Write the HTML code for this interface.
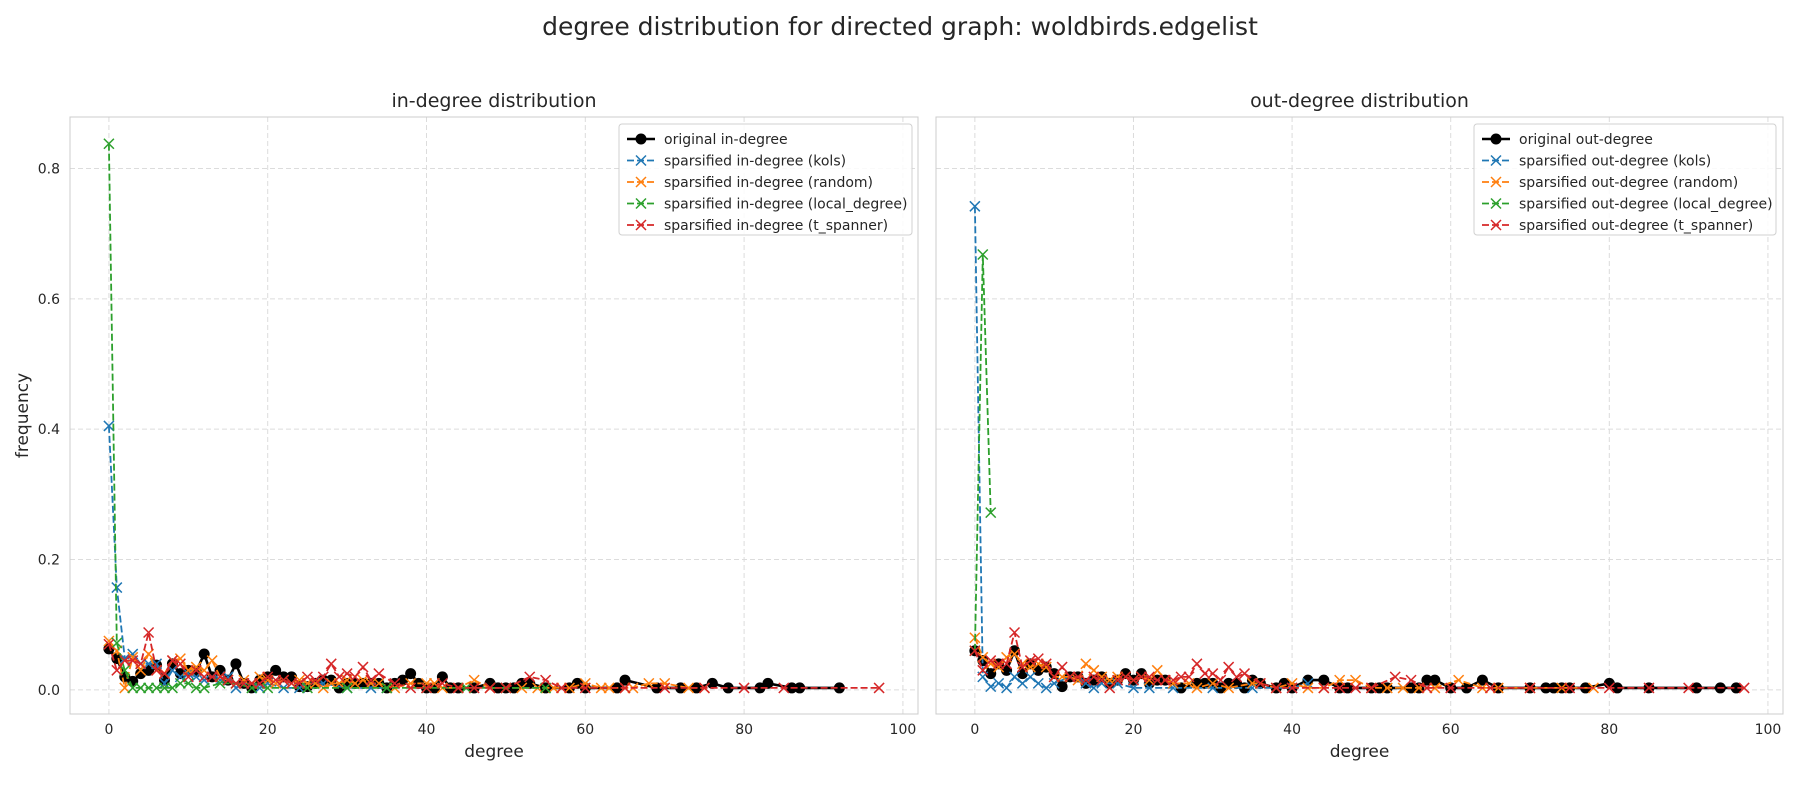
<!DOCTYPE html>
<html><head><meta charset="utf-8"><style>
body{margin:0;background:#fff;}
svg{display:block;font-family:"DejaVu Sans","Liberation Sans",sans-serif;}
</style></head><body>
<svg id="fig" width="1800" height="800" xmlns="http://www.w3.org/2000/svg">
<rect width="1800" height="800" fill="#fff"/>
<text x="900" y="35" text-anchor="middle" font-size="25" fill="#262626">degree distribution for directed graph: woldbirds.edgelist</text>
</svg>
<script>
const inOriginal=[[0,.063],[1,.048],[2,.02],[3,.013],[4,.025],[5,.03],[6,.038],[7,.015],[8,.04],[9,.025],[10,.03],[11,.028],[12,.055],[13,.02],[14,.03],[15,.015],[16,.04],[17,.01],[18,.003],[19,.015],[20,.02],[21,.03],[22,.02],[23,.02],[24,.005],[25,.005],[26,.01],[27,.015],[28,.015],[29,.003],[30,.01],[31,.01],[32,.01],[33,.01],[34,.01],[35,.003],[36,.01],[37,.015],[38,.025],[39,.01],[40,.003],[41,.003],[42,.02],[43,.003],[44,.003],[46,.003],[48,.01],[49,.003],[50,.003],[51,.003],[52,.01],[53,.01],[55,.003],[58,.003],[59,.01],[60,.003],[64,.003],[65,.015],[69,.003],[72,.003],[74,.003],[76,.01],[78,.003],[82,.003],[83,.01],[86,.003],[87,.003],[92,.003]];
const inKols=[[0,.405],[1,.157],[2,.048],[3,.055],[4,.04],[5,.04],[6,.04],[7,.01],[8,.03],[9,.02],[10,.025],[11,.02],[12,.015],[13,.02],[14,.015],[15,.02],[16,.003],[17,.01],[18,.01],[19,.003],[20,.01],[22,.003],[24,.003],[25,.01],[27,.01],[30,.003],[33,.003],[35,.003]];
const inRandom=[[0,.075],[1,.06],[2,.003],[3,.05],[4,.03],[5,.055],[6,.03],[7,.025],[8,.045],[9,.048],[10,.03],[11,.035],[12,.03],[13,.045],[14,.02],[15,.015],[16,.01],[17,.015],[18,.01],[19,.02],[20,.015],[21,.01],[22,.015],[23,.01],[24,.015],[25,.01],[26,.01],[27,.003],[28,.01],[29,.01],[30,.015],[31,.01],[32,.015],[33,.01],[34,.01],[36,.003],[38,.01],[40,.01],[41,.01],[42,.003],[44,.003],[46,.015],[48,.003],[50,.003],[52,.003],[54,.003],[56,.003],[58,.003],[60,.01],[62,.003],[63,.003],[65,.003],[66,.003],[68,.01],[70,.01],[73,.003],[75,.003]];
const inLocal=[[0,.838],[1,.072],[2,.03],[3,.003],[4,.003],[5,.003],[6,.003],[7,.003],[8,.003],[9,.01],[10,.01],[11,.003],[12,.003],[14,.01],[16,.01],[18,.003],[20,.003],[25,.003],[30,.003],[35,.003],[40,.003],[45,.003],[50,.003],[55,.003]];
const inSpanner=[[0,.07],[1,.03],[2,.045],[3,.045],[4,.04],[5,.088],[6,.03],[7,.025],[8,.045],[9,.04],[10,.02],[11,.03],[12,.02],[13,.02],[14,.02],[15,.015],[16,.01],[17,.01],[18,.01],[19,.01],[20,.02],[21,.015],[22,.015],[23,.01],[24,.01],[25,.02],[26,.015],[27,.02],[28,.04],[29,.02],[30,.025],[31,.02],[32,.035],[33,.015],[34,.025],[36,.01],[38,.003],[40,.003],[42,.01],[44,.003],[46,.003],[48,.003],[50,.003],[53,.02],[55,.015],[57,.003],[60,.003],[65,.003],[70,.003],[75,.003],[80,.003],[85,.003],[97,.003]];
const outOriginal=[[0,.06],[1,.045],[2,.025],[3,.04],[4,.03],[5,.06],[6,.025],[7,.04],[8,.03],[9,.035],[10,.025],[11,.005],[12,.02],[13,.02],[14,.01],[15,.015],[16,.02],[17,.01],[18,.015],[19,.025],[20,.015],[21,.025],[22,.01],[23,.015],[24,.015],[26,.003],[28,.01],[29,.01],[30,.01],[31,.003],[32,.01],[33,.01],[34,.003],[35,.015],[36,.01],[38,.003],[39,.01],[40,.003],[42,.015],[44,.015],[46,.003],[47,.003],[50,.003],[51,.003],[52,.003],[55,.003],[56,.003],[57,.015],[58,.015],[60,.003],[62,.003],[64,.015],[66,.003],[70,.003],[72,.003],[73,.003],[74,.003],[75,.003],[77,.003],[80,.01],[81,.003],[85,.003],[91,.003],[94,.003],[96,.003]];
const outKols=[[0,.742],[1,.02],[2,.005],[3,.01],[4,.003],[5,.02],[6,.01],[7,.02],[8,.01],[9,.003],[10,.01],[12,.02],[14,.01],[15,.003],[16,.01],[18,.01],[20,.003],[22,.003],[25,.003],[30,.003],[35,.003],[40,.003],[42,.01]];
const outRandom=[[0,.08],[1,.05],[2,.04],[3,.035],[4,.05],[5,.055],[6,.04],[7,.035],[8,.04],[9,.035],[10,.02],[11,.02],[12,.02],[13,.015],[14,.04],[15,.03],[16,.02],[17,.015],[18,.02],[19,.02],[20,.015],[21,.02],[22,.015],[23,.03],[24,.015],[25,.01],[27,.01],[28,.003],[30,.01],[32,.003],[35,.01],[36,.01],[38,.003],[40,.01],[42,.003],[44,.003],[46,.015],[48,.015],[50,.003],[52,.003],[54,.003],[56,.003],[58,.003],[61,.015],[64,.003],[66,.003],[70,.003],[74,.003],[78,.003]];
const outLocal=[[0,.06],[1,.668],[2,.272]];
const outSpanner=[[0,.06],[1,.03],[2,.045],[3,.04],[4,.04],[5,.088],[6,.035],[7,.045],[8,.048],[9,.04],[10,.02],[11,.035],[12,.02],[13,.02],[14,.015],[15,.02],[16,.015],[17,.003],[18,.015],[19,.02],[20,.015],[21,.02],[22,.02],[23,.015],[24,.015],[25,.015],[26,.02],[27,.02],[28,.04],[29,.025],[30,.025],[31,.015],[32,.035],[33,.02],[34,.025],[36,.01],[38,.003],[40,.003],[44,.003],[46,.003],[48,.003],[50,.003],[53,.02],[55,.015],[57,.003],[60,.003],[65,.003],[70,.003],[75,.003],[80,.003],[85,.003],[90,.003],[97,.003]];
const xTicks=[0,20,40,60,80,100];
const yTicks=[0,0.2,0.4,0.6,0.8];
const yTickLabels=["0.0","0.2","0.4","0.6","0.8"];
const methods=["kols","random","local_degree","t_spanner"];
const colors=["#1f77b4","#ff7f0e","#2ca02c","#d62728"];

const NS="http://www.w3.org/2000/svg";
const svg=document.getElementById('fig');
function mk(tag,attrs,parent){const e=document.createElementNS(NS,tag);for(const k in attrs)e.setAttribute(k,attrs[k]);(parent||svg).appendChild(e);return e;}

function panel(key,L,R,T,B,title,kind,series,showY,legX,legW){
  const xmin=-4.9,xmax=101.9,ymin=-0.037,ymax=0.879;
  const sx=v=>L+(v-xmin)/(xmax-xmin)*(R-L);
  const sy=v=>B-(v-ymin)/(ymax-ymin)*(B-T);
  const g=mk('g',{});
  
  
  xTicks.forEach(t=>{
    const l=mk('line',{x1:sx(t),x2:sx(t),y1:T,y2:B,stroke:'#dcdcdc','stroke-dasharray':'5,3','stroke-width':1},g);
    
    const tx=mk('text',{x:sx(t),y:B+20,'text-anchor':'middle','font-size':14,fill:'#262626'},g);
    tx.textContent=t;
  });
  yTicks.forEach((t,i)=>{
    const l=mk('line',{x1:L,x2:R,y1:sy(t),y2:sy(t),stroke:'#dcdcdc','stroke-dasharray':'5,3','stroke-width':1},g);
    
    if(showY){const tx=mk('text',{x:L-10,y:sy(t)+5,'text-anchor':'end','font-size':14,fill:'#262626'},g);
    tx.textContent=yTickLabels[i];}
  });
  const fr=mk('rect',{x:L,y:T,width:R-L,height:B-T,fill:'none',stroke:'#cccccc','stroke-width':1},g);
  
  const tt=mk('text',{x:(L+R)/2,y:T-10,'text-anchor':'middle','font-size':19,fill:'#262626'},g);
  tt.textContent=title;
  const xl=mk('text',{x:(L+R)/2,y:B+43,'text-anchor':'middle','font-size':17,fill:'#262626'},g);
  xl.textContent='degree';
  if(showY){const yl=mk('text',{x:0,y:0,'text-anchor':'middle','font-size':17,fill:'#262626',transform:`translate(28,${(T+B)/2}) rotate(-90)`},g);
    yl.textContent='frequency';}
  [0,1,2,3,4].forEach(si=>{
    const data=series[si];
    const col=si===0?'#000':colors[si-1];
    const sg=mk('g',{},g);
    
    
    const pts=data.map(d=>sx(d[0]).toFixed(1)+','+sy(d[1]).toFixed(1)).join(' ');
    const pl=mk('polyline',{points:pts,fill:'none',stroke:col,'stroke-width':si===0?2.6:1.8,'stroke-dasharray':si===0?'none':'7,3'},sg);
    
    data.forEach(d=>{
      const x=sx(d[0]),y=sy(d[1]);
      if(si===0){const c=mk('circle',{cx:x,cy:y,r:5.5,fill:'#000'},sg);}
      else{const p=mk('path',{d:`M${x-5},${y-5}L${x+5},${y+5}M${x-5},${y+5}L${x+5},${y-5}`,stroke:col,'stroke-width':1.5},sg);}
    });
  });
  const lg=mk('g',{},g);
  
  const lt=T+7;
  mk('rect',{x:legX,y:lt,width:legW,height:111,rx:3,fill:'#fff','fill-opacity':0.85,stroke:'#d0d0d0'},lg);
  const labels=['original '+kind,...methods.map(m=>`sparsified ${kind} (${m})`)];
  labels.forEach((lab,i)=>{
    const y=lt+15+i*21.5;
    const col=i===0?'#000':colors[i-1];
    const e=mk('g',{},lg);
    
    mk('line',{x1:legX+8,x2:legX+36,y1:y,y2:y,stroke:col,'stroke-width':i===0?2.6:1.8,'stroke-dasharray':i===0?'none':'7,3'},e);
    if(i===0)mk('circle',{cx:legX+22,cy:y,r:5.5,fill:'#000'},e);
    else mk('path',{d:`M${legX+17},${y-5}L${legX+27},${y+5}M${legX+17},${y+5}L${legX+27},${y-5}`,stroke:col,'stroke-width':1.5},e);
    const t=mk('text',{x:legX+45,y:y+5,'font-size':14,fill:'#262626'},e);t.textContent=lab;
  });
}
panel('in-degree',70,918,117,714,'in-degree distribution','in-degree',[inOriginal,inKols,inRandom,inLocal,inSpanner],true,619,293);
panel('out-degree',936,1783,117,714,'out-degree distribution','out-degree',[outOriginal,outKols,outRandom,outLocal,outSpanner],false,1474,302);
</script>
</body></html>
